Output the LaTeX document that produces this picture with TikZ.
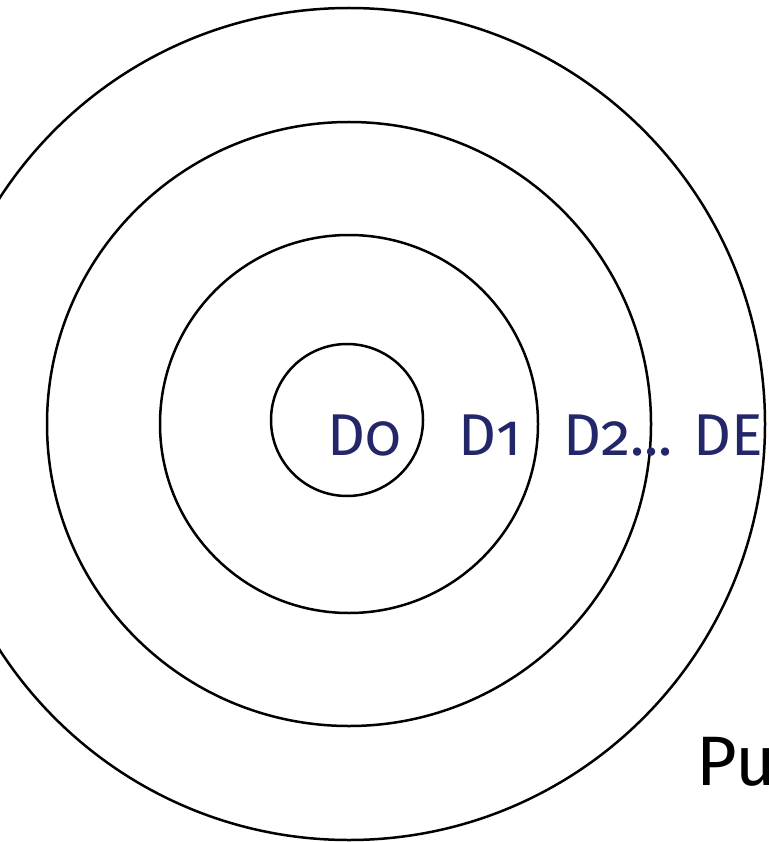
\documentclass[tikz,border=0pt]{standalone}
\usepackage{fontspec}
\setmainfont[Numbers=OldStyle]{Fira Sans}
\usepackage{xcolor}
\definecolor{ringblue}{RGB}{36,38,106}

\begin{document}
\begin{tikzpicture}[x=1pt, y=-1pt, line width=2.5pt, every node/.style={anchor=base west, inner sep=0pt}, lab/.style={text=ringblue, font=\fontsize{59}{61}\selectfont}]
    \clip (0,0) rectangle (768,842);
    \coordinate (c) at (349,424);
    \draw (347,420) circle (76);
    \foreach \r in {189,302,416}
        \draw (c) circle (\r);
    \node[lab] (d0) at (326,455) {D0};
    \node[lab] (d1) at (457,455) {D1};
    \node[lab] (d2) at (562,455) {D2... DE};
    \node[font=\fontsize{70}{72}\selectfont] (pu) at (695,785) {Pu};
\end{tikzpicture}
\end{document}
